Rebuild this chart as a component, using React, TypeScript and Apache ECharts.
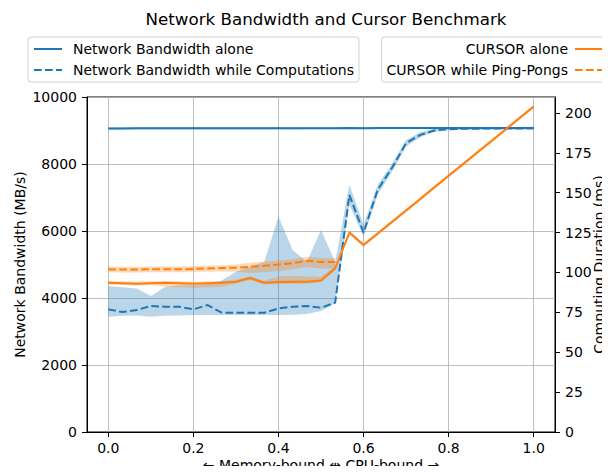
import React, { useEffect, useRef } from "react";
import * as echarts from "echarts";

// x positions (fraction CPU-bound)
const xs = [
  0, 0.0333, 0.0667, 0.1, 0.1333, 0.1667, 0.2, 0.2333, 0.2667, 0.3, 0.3333,
  0.3667, 0.4, 0.4333, 0.4667, 0.5, 0.5333, 0.5667, 0.6, 0.6333, 0.6667, 0.7,
  0.7333, 0.7667, 0.8, 0.8333, 0.8667, 0.9, 0.9333, 0.9667, 1.0,
];

// Network bandwidth alone (MB/s)
const bwAlone = [
  9060, 9062, 9065, 9064, 9066, 9065, 9066, 9068, 9067, 9066, 9068, 9068, 9069,
  9068, 9070, 9069, 9070, 9071, 9070, 9071, 9071, 9072, 9071, 9072, 9072, 9073,
  9072, 9073, 9073, 9074, 9074,
];
const bwAloneLo = [
  9025, 9027, 9030, 9029, 9031, 9030, 9031, 9033, 9032, 9031, 9033, 9033, 9034,
  9033, 9035, 9034, 9035, 9036, 9035, 9036, 9036, 9037, 9036, 9037, 9037, 9038,
  9037, 9038, 9038, 9039, 9039,
];
const bwAloneHi = [
  9095, 9097, 9100, 9099, 9101, 9100, 9101, 9103, 9102, 9101, 9103, 9103, 9104,
  9103, 9105, 9104, 9105, 9106, 9105, 9106, 9106, 9107, 9106, 9107, 9107, 9108,
  9107, 9108, 9108, 9109, 9109,
];

// Network bandwidth while computations (MB/s)
const bwComp = [
  3660, 3580, 3640, 3760, 3740, 3740, 3660, 3790, 3560, 3560, 3560, 3560, 3690,
  3740, 3760, 3710, 3860, 7080, 5950, 7230, 7880, 8620, 8870, 9000, 9040, 9050,
  9055, 9058, 9060, 9062, 9064,
];
const bwCompLo = [
  3440, 3470, 3480, 3440, 3470, 3480, 3490, 3490, 3490, 3490, 3490, 3490, 3490,
  3500, 3520, 3610, 3840, 6780, 5830, 7080, 7760, 8520, 8800, 8960, 9010, 9025,
  9030, 9032, 9034, 9036, 9038,
];
const bwCompHi = [
  4360, 4320, 4280, 4060, 4330, 4380, 4380, 4420, 4520, 4780, 4930, 5080, 6430,
  5430, 5080, 6030, 5080, 7380, 6180, 7380, 8000, 8720, 8950, 9050, 9090, 9080,
  9082, 9084, 9086, 9088, 9090,
];

// CURSOR alone (ms)
const cursorAlone = [
  93.5, 93.3, 93.0, 93.3, 93.5, 93.3, 93.0, 93.3, 93.5, 94.2, 96.5, 93.6, 94.0,
  94.2, 94.2, 95.0, 102.6, 125.0, 117.2, 124.4, 131.7, 138.9, 146.1, 153.4,
  160.6, 167.8, 175.1, 182.3, 189.5, 196.8, 204.0,
];
const cursorAloneLo = [
  92.3, 92.1, 91.8, 92.1, 91.0, 90.8, 90.5, 90.8, 91.0, 93.0, 95.3, 92.4, 92.8,
  93.0, 93.0, 93.8, 101.4, 123.8, 116.0, 123.2, 130.5, 137.7, 144.9, 152.2,
  159.4, 166.6, 173.9, 181.1, 188.3, 195.6, 202.8,
];
const cursorAloneHi = [
  94.7, 94.5, 94.2, 94.5, 94.7, 94.5, 94.2, 94.5, 94.7, 95.4, 97.7, 94.8, 97.5,
  98.0, 97.5, 97.5, 103.8, 126.2, 118.4, 125.6, 132.9, 140.1, 147.3, 154.6,
  161.8, 169.0, 176.3, 183.5, 190.7, 198.0, 205.2,
];

// CURSOR while Ping-Pongs (ms)
const cursorPP = [
  102.0, 101.8, 101.8, 102.0, 102.0, 102.0, 102.2, 102.5, 102.8, 103.0, 103.6,
  104.2, 105.0, 105.8, 107.4, 106.5, 106.5,
];
const cursorPPLo = [
  100.2, 100.0, 100.0, 100.2, 100.2, 100.2, 100.4, 100.5, 100.6, 100.5, 99.6,
  100.2, 101.0, 101.8, 103.4, 102.5, 102.5,
];
const cursorPPHi = [
  103.8, 103.6, 103.6, 103.8, 103.8, 103.8, 104.0, 104.3, 104.6, 105.0, 106.1,
  106.7, 107.5, 108.3, 109.9, 109.0, 109.0,
];

const xTicks = [0, 0.2, 0.4, 0.6, 0.8, 1.0];
const rightTicks = [0, 25, 50, 75, 100, 125, 150, 175, 200];

const BLUE = "#1f77b4";
const ORANGE = "#ff7f0e";
const BLUE_FILL = "rgba(31,119,180,0.3)";
const ORANGE_FILL = "rgba(255,127,14,0.3)";
const FONT = "DejaVu Sans";
const DASH = [7.7, 3.3];
const FS = 14;

function pairs(y: number[]) {
  return y.map((v, i) => [xs[i], v]);
}

function band(name: string, lo: number[], hi: number[], color: string, yAxisIndex: number) {
  return {
    name,
    type: "custom",
    coordinateSystem: "cartesian2d",
    xAxisIndex: 0,
    yAxisIndex,
    silent: true,
    z: 1,
    data: [[xs[0], lo[0]]],
    renderItem: (params: any, api: any) => {
      const pts: number[][] = [];
      for (let i = 0; i < lo.length; i++) pts.push(api.coord([xs[i], lo[i]]));
      for (let i = hi.length - 1; i >= 0; i--) pts.push(api.coord([xs[i], hi[i]]));
      return {
        type: "polygon",
        shape: { points: pts },
        style: { fill: color, stroke: "none" },
      };
    },
  };
}

export default function App() {
  const ref = useRef<HTMLDivElement>(null);
  useEffect(() => {
    if (!ref.current) return;
    const chart = echarts.init(ref.current, null, { renderer: "svg" });
    const legendCommon = {
      orient: "vertical",
      top: 37,
      itemWidth: 28,
      itemHeight: 12,
      itemGap: 7,
      padding: [5, 5],
      borderColor: "#d0d0d0",
      borderWidth: 1,
      borderRadius: 3,
      backgroundColor: "#fff",
      itemStyle: { opacity: 0 },
      textStyle: { fontFamily: FONT, fontSize: FS, color: "#000" },
    };
    const axisText = { fontFamily: FONT, fontSize: FS, color: "#000" };
    const option: any = {
      animation: false,
      textStyle: { fontFamily: FONT },
      title: {
        text: "Network Bandwidth and Cursor Benchmark",
        left: 321,
        top: 5,
        textAlign: "center",
        textStyle: { fontFamily: FONT, fontSize: 16.7, fontWeight: "normal", color: "#000" },
      },
      legend: [
        {
          ...legendCommon,
          left: 28,
          align: "left",
          data: ["Network Bandwidth alone", "Network Bandwidth while Computations"],
          textStyle: { ...legendCommon.textStyle, padding: [0, 0, 0, 6] },
        },
        {
          ...legendCommon,
          right: 1,
          align: "right",
          data: ["CURSOR alone", "CURSOR while Ping-Pongs"],
          textStyle: { ...legendCommon.textStyle, padding: [0, 2, 0, 0] },
        },
      ],
      grid: {
        left: 87,
        right: 55,
        top: 97,
        bottom: 42,
        show: true,
        borderColor: "#000",
        borderWidth: 1,
        backgroundColor: "transparent",
        containLabel: false,
        outerBoundsMode: "none",
      },
      xAxis: {
        type: "value",
        min: -0.05,
        max: 1.05,
        name: "← Memory-bound ⇹ CPU-bound →",
        nameLocation: "middle",
        nameGap: 26,
        nameMoveOverlap: false,
        nameTextStyle: axisText,
        axisLine: { show: true, onZero: false, lineStyle: { color: "#000", width: 1 } },
        axisTick: { show: true, length: 5, customValues: xTicks, lineStyle: { color: "#000" } },
        axisLabel: {
          ...axisText,
          customValues: xTicks,
          formatter: (v: number) => v.toFixed(1),
          margin: 9,
        },
        splitLine: { show: true, lineStyle: { color: "#b0b0b0", width: 0.8 } },
      },
      yAxis: [
        {
          type: "value",
          min: 0,
          max: 10000,
          interval: 2000,
          position: "left",
          name: "Network Bandwidth (MB/s)",
          nameLocation: "middle",
          nameGap: 60,
          nameMoveOverlap: false,
          nameTextStyle: axisText,
          axisLine: { show: true, onZero: false, lineStyle: { color: "#000" } },
          axisTick: { show: true, length: 5, lineStyle: { color: "#000" } },
          axisLabel: { ...axisText, margin: 10, formatter: (v: number) => String(v) },
          splitLine: { show: true, lineStyle: { color: "#b0b0b0", width: 0.8, type: "solid" } },
        },
        {
          type: "value",
          min: 0,
          max: 210,
          position: "right",
          name: "Computing Duration (ms)",
          nameLocation: "middle",
          nameGap: 37,
          nameMoveOverlap: false,
          nameTextStyle: axisText,
          axisLine: { show: true, onZero: false, lineStyle: { color: "#000" } },
          axisTick: { show: true, length: 5, customValues: rightTicks, lineStyle: { color: "#000" } },
          axisLabel: { ...axisText, customValues: rightTicks, margin: 10 },
          splitLine: { show: false },
        },
      ],
      series: [
        band("bwAloneBand", bwAloneLo, bwAloneHi, BLUE_FILL, 0),
        band("bwCompBand", bwCompLo, bwCompHi, BLUE_FILL, 0),
        band("curAloneBand", cursorAloneLo, cursorAloneHi, ORANGE_FILL, 1),
        band("curPPBand", cursorPPLo, cursorPPHi, ORANGE_FILL, 1),
        {
          name: "Network Bandwidth while Computations",
          type: "line",
          yAxisIndex: 0,
          data: pairs(bwComp),
          symbol: "none",
          color: BLUE,
          lineStyle: { color: BLUE, width: 2, type: DASH },
          z: 3,
        },
        {
          name: "Network Bandwidth alone",
          type: "line",
          yAxisIndex: 0,
          data: pairs(bwAlone),
          symbol: "none",
          color: BLUE,
          lineStyle: { color: BLUE, width: 2 },
          z: 2,
        },
        {
          name: "CURSOR while Ping-Pongs",
          type: "line",
          yAxisIndex: 1,
          data: pairs(cursorPP),
          symbol: "none",
          color: ORANGE,
          lineStyle: { color: ORANGE, width: 2, type: DASH },
          z: 3,
        },
        {
          name: "CURSOR alone",
          type: "line",
          yAxisIndex: 1,
          data: pairs(cursorAlone),
          symbol: "none",
          color: ORANGE,
          lineStyle: { color: ORANGE, width: 2 },
          z: 4,
        },
      ],
    };
    chart.setOption(option);
    return () => chart.dispose();
  }, []);
  return <div ref={ref} style={{ width: 610, height: 474, margin: -8 }} />;
}
